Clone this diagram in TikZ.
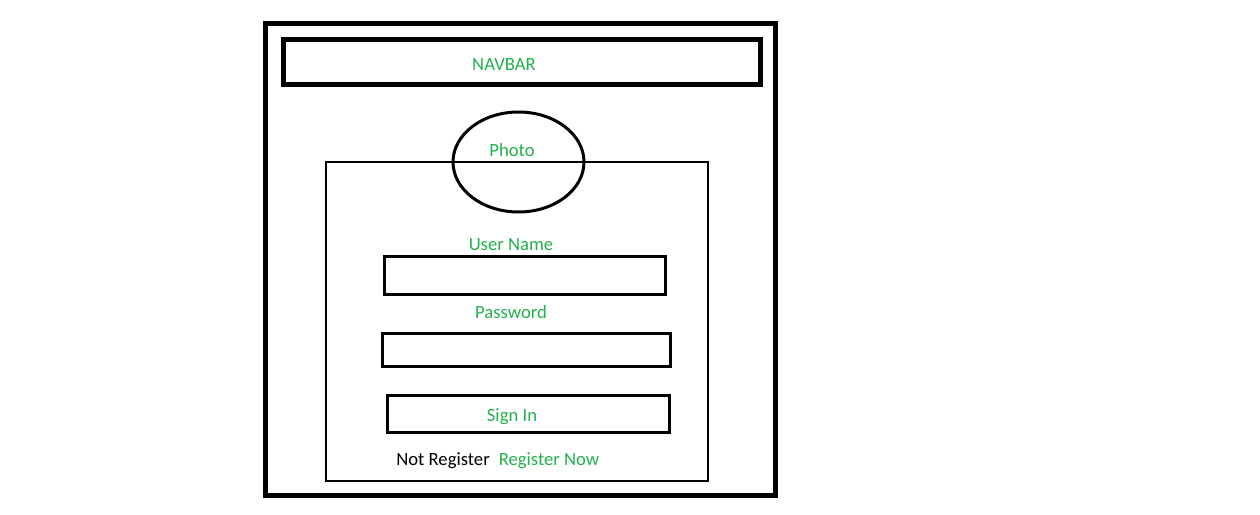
\documentclass[tikz,border=0pt]{standalone}
\usepackage{fontspec}
\setmainfont{Carlito}
\usetikzlibrary{shapes.geometric}
\definecolor{paintgreen}{RGB}{34,177,76}

\begin{document}
\begin{tikzpicture}[x=0.75pt,y=-0.75pt,
	box/.style={rectangle, draw, inner sep=0pt},
	label/.style={paintgreen, font=\fontsize{14}{16}\selectfont, inner sep=0pt}]

	\useasboundingbox (0,0) rectangle (1260,514);

	\node (frame) [box, line width=3.75pt, minimum width=382.5pt, minimum height=354pt] at (520.5,259.5) {};
	\node (navbar) [box, line width=3.75pt, minimum width=358.1pt, minimum height=34.1pt] at (521.75,62.25) {};
	\node (card) [box, line width=1.5pt, minimum width=286.5pt, minimum height=239.25pt] at (517,321.5) {};
	\node (photo) [ellipse, draw, line width=2.25pt, inner sep=0pt, minimum width=98.25pt, minimum height=75pt] at (518.5,162) {};
	\node (userbox) [box, line width=2.25pt, minimum width=210.75pt, minimum height=28.5pt] at (524.5,275) {};
	\node (passbox) [box, line width=2.25pt, minimum width=216pt, minimum height=24.75pt] at (526,349.5) {};
	\node (signbox) [box, line width=2.25pt, minimum width=211.5pt, minimum height=27.75pt] at (528,413.5) {};

	\node (a) [label] at (504,64.5) {NAVBAR};
	\node (b) [label] at (512,150) {Photo};
	\node (c) [label] at (511,244.5) {User Name};
	\node (d) [label] at (511,312) {Password};
	\node (e) [label] at (512,416.5) {Sign In};
	\node (f) [label, black] at (443,460.5) {Not Register};
	\node (g) [label] at (549,460.5) {Register Now};

\end{tikzpicture}
\end{document}
